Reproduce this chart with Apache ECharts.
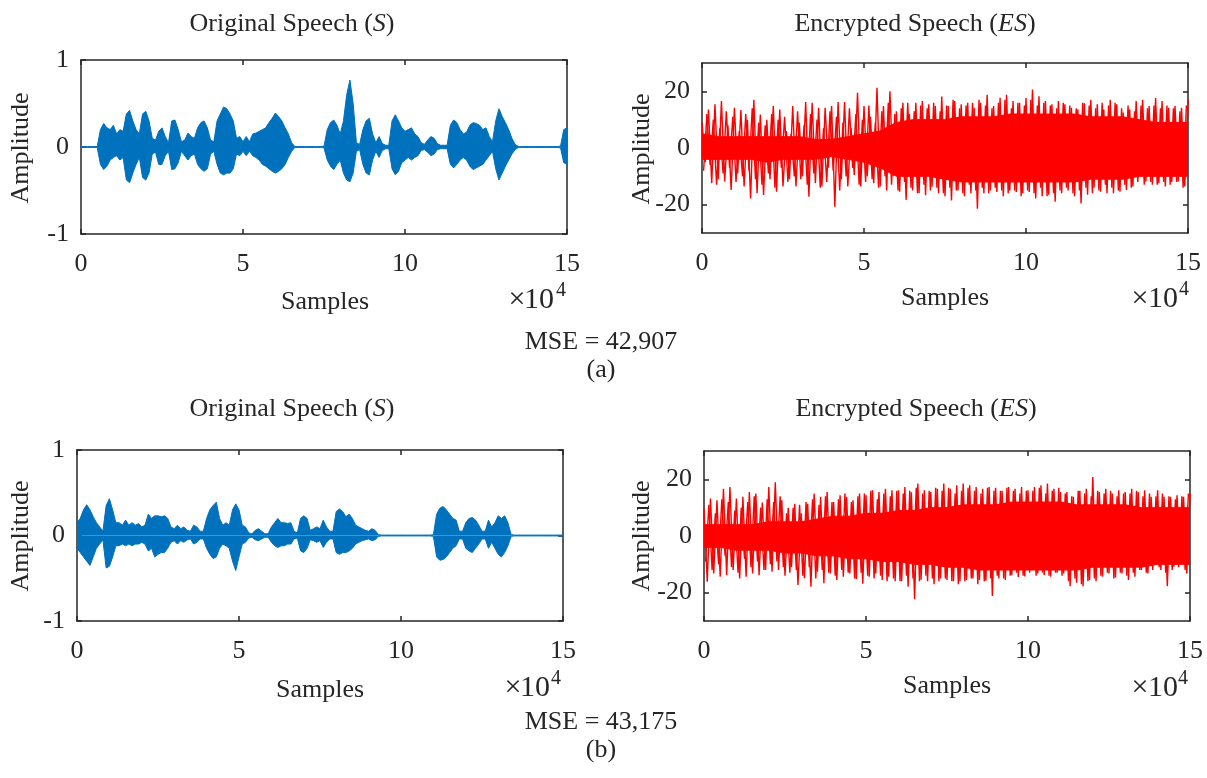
<!DOCTYPE html>
<html>
<head>
<meta charset="utf-8">
<script src="https://cdn.jsdelivr.net/npm/echarts@6/dist/echarts.min.js"></script>
<style>
html,body{margin:0;padding:0;background:#fff;}
#c{width:1207px;height:778px;}
</style>
</head>
<body>
<div id="c"></div>
<script>
// ---------- data (amplitudes) ----------
// x axis in units of 10^4 samples; speech envelopes sampled every 0.1 (x10^4)
const xTicks = [0, 5, 10, 15];
const speechTicks = [-1, 0, 1];
const encTicks = [-20, 0, 20];

// (a) original speech: upper and lower envelope
const speechA_upper = [
 0.005,0.005,0.005,0.005,0.005,0.005,0.2,0.27,0.22,0.2,
 0.25,0.15,0.2,0.18,0.38,0.42,0.3,0.2,0.15,0.38,
 0.41,0.3,0.1,0.08,0.18,0.22,0.12,0.05,0.3,0.31,
 0.2,0.06,0.08,0.16,0.12,0.1,0.22,0.28,0.3,0.22,
 0.08,0.06,0.3,0.38,0.46,0.44,0.38,0.3,0.1,0.12,
 0.06,0.12,0.06,0.15,0.16,0.18,0.2,0.22,0.28,0.33,
 0.39,0.35,0.3,0.22,0.15,0.05,0.005,0.005,0.005,0.005,
 0.005,0.005,0.005,0.005,0.005,0.01,0.2,0.28,0.31,0.25,
 0.15,0.3,0.6,0.77,0.5,0.05,0.03,0.2,0.3,0.33,
 0.15,0.05,0.12,0.04,0.02,0.02,0.3,0.37,0.3,0.22,
 0.18,0.2,0.22,0.15,0.12,0.05,0.03,0.08,0.12,0.1,
 0.04,0.02,0.02,0.02,0.25,0.31,0.28,0.2,0.15,0.17,
 0.25,0.28,0.27,0.25,0.2,0.22,0.12,0.06,0.3,0.44,
 0.35,0.28,0.2,0.1,0.03,0.005,0.005,0.005,0.005,0.005,
 0.005,0.005,0.005,0.005,0.005,0.005,0.005,0.005,0.01,0.2,
 0.22];
const speechA_lower = [
 -0.005,-0.005,-0.005,-0.005,-0.005,-0.005,-0.2,-0.26,-0.22,-0.15,
 -0.12,-0.1,-0.15,-0.12,-0.38,-0.41,-0.3,-0.2,-0.12,-0.35,
 -0.38,-0.3,-0.08,-0.06,-0.2,-0.2,-0.1,-0.05,-0.26,-0.25,
 -0.18,-0.05,-0.1,-0.15,-0.1,-0.08,-0.2,-0.25,-0.28,-0.25,
 -0.08,-0.05,-0.2,-0.3,-0.32,-0.3,-0.3,-0.25,-0.08,-0.1,
 -0.05,-0.1,-0.05,-0.1,-0.12,-0.15,-0.2,-0.22,-0.25,-0.28,
 -0.3,-0.28,-0.25,-0.2,-0.12,-0.05,-0.005,-0.005,-0.005,-0.005,
 -0.005,-0.005,-0.005,-0.005,-0.005,-0.01,-0.15,-0.22,-0.26,-0.2,
 -0.15,-0.3,-0.38,-0.4,-0.3,-0.05,-0.03,-0.2,-0.3,-0.32,
 -0.15,-0.05,-0.12,-0.04,-0.02,-0.02,-0.25,-0.32,-0.28,-0.18,
 -0.15,-0.12,-0.15,-0.12,-0.1,-0.04,-0.03,-0.06,-0.1,-0.08,
 -0.03,-0.02,-0.02,-0.02,-0.2,-0.24,-0.2,-0.15,-0.12,-0.15,
 -0.22,-0.26,-0.24,-0.22,-0.2,-0.15,-0.1,-0.05,-0.25,-0.38,
 -0.3,-0.22,-0.15,-0.08,-0.03,-0.005,-0.005,-0.005,-0.005,-0.005,
 -0.005,-0.005,-0.005,-0.005,-0.005,-0.005,-0.005,-0.005,-0.01,-0.18,
 -0.2];

// (b) original speech: upper and lower envelope
const speechB_upper = [
 0.15,0.2,0.3,0.36,0.3,0.22,0.15,0.1,0.05,0.35,
 0.43,0.3,0.15,0.15,0.12,0.18,0.12,0.15,0.12,0.14,
 0.1,0.12,0.25,0.2,0.23,0.23,0.22,0.23,0.2,0.1,
 0.08,0.12,0.08,0.1,0.06,0.05,0.12,0.1,0.05,0.05,
 0.2,0.3,0.35,0.39,0.2,0.12,0.15,0.12,0.3,0.37,
 0.3,0.12,0.1,0.03,0.02,0.06,0.08,0.05,0.02,0.02,
 0.1,0.15,0.2,0.15,0.15,0.14,0.15,0.05,0.03,0.2,
 0.23,0.2,0.06,0.08,0.1,0.08,0.18,0.1,0.05,0.05,
 0.28,0.31,0.28,0.22,0.25,0.2,0.12,0.1,0.08,0.06,
 0.05,0.08,0.06,0.01,0.005,0.005,0.005,0.005,0.005,0.005,
 0.005,0.005,0.005,0.005,0.005,0.005,0.005,0.005,0.005,0.005,
 0.01,0.25,0.32,0.34,0.3,0.25,0.2,0.18,0.05,0.05,
 0.15,0.2,0.21,0.18,0.12,0.05,0.05,0.18,0.1,0.15,
 0.23,0.2,0.23,0.15,0.01,0.005,0.005,0.005,0.005,0.005,
 0.005,0.005,0.005,0.005,0.005,0.005,0.005,0.005,0.005,0.005,
 0.005];
const speechB_lower = [
 -0.15,-0.2,-0.25,-0.3,-0.35,-0.25,-0.15,-0.1,-0.05,-0.38,
 -0.36,-0.25,-0.12,-0.12,-0.1,-0.12,-0.1,-0.12,-0.1,-0.1,
 -0.08,-0.1,-0.18,-0.15,-0.25,-0.22,-0.2,-0.2,-0.15,-0.08,
 -0.06,-0.1,-0.06,-0.08,-0.05,-0.04,-0.1,-0.08,-0.04,-0.04,
 -0.15,-0.22,-0.27,-0.25,-0.15,-0.1,-0.12,-0.15,-0.3,-0.41,
 -0.25,-0.1,-0.08,-0.03,-0.02,-0.05,-0.06,-0.04,-0.02,-0.02,
 -0.08,-0.12,-0.14,-0.12,-0.12,-0.1,-0.1,-0.04,-0.03,-0.18,
 -0.2,-0.15,-0.05,-0.06,-0.08,-0.06,-0.14,-0.08,-0.04,-0.04,
 -0.2,-0.22,-0.2,-0.2,-0.18,-0.15,-0.1,-0.08,-0.06,-0.05,
 -0.04,-0.06,-0.05,-0.01,-0.005,-0.005,-0.005,-0.005,-0.005,-0.005,
 -0.005,-0.005,-0.005,-0.005,-0.005,-0.005,-0.005,-0.005,-0.005,-0.005,
 -0.01,-0.25,-0.29,-0.28,-0.25,-0.2,-0.15,-0.12,-0.04,-0.04,
 -0.15,-0.18,-0.2,-0.15,-0.1,-0.04,-0.04,-0.15,-0.08,-0.15,
 -0.22,-0.25,-0.2,-0.12,-0.01,-0.005,-0.005,-0.005,-0.005,-0.005,
 -0.005,-0.005,-0.005,-0.005,-0.005,-0.005,-0.005,-0.005,-0.005,-0.005,
 -0.005];

// encrypted speech: alternating peak values every 0.1 (x10^4), starting at 0
const encA_peaks = [
 9,-5,13.6,-12.4,15.4,-11,16.6,-11.8,8,-14.8,
 14.2,-9,13.4,-13.6,10,-17.8,17,-16,11.8,-16.6,
 10,-11,14.8,-15.4,13.6,-13.6,6,-11,14.8,-13.6,
 9,-10,16.2,-17.2,16,-12.4,14.2,-13.6,14.2,-7,
 14.8,-20.7,16.2,-11,16.2,-13.6,7,-9.5,19.5,-13.6,
 14.8,-10,11,-12.4,21.3,-13.6,14.8,-15,20,-10,
 13,-15.4,16,-18.3,12,-15,16,-16,16.6,-16.7,
 15.4,-13.7,14.8,-16,18.2,-17,14.8,-18.5,16.6,-15,
 15.4,-17,16,-16,14.2,-21.4,16,-16,18.8,-15,
 14.8,-15.5,17.7,-17,18.8,-15,16.6,-15.5,16,-16,
 17.6,-15.5,20.6,-17.8,18.3,-17,16.6,-16.5,15.4,-19,
 16.6,-16,15.4,-15,14.2,-17,13.6,-19.6,15.8,-16.5,
 17,-14,15.4,-15.4,13.6,-16,17,-16,15.4,-15.4,
 12.5,-14.8,13.6,-13.6,16.6,-10,17,-11.8,14.8,-13,
 17.6,-12.4,16.6,-13.6,14.2,-12,14.8,-11.8,14.2,-13.6,
 17];
// secondary peaks, every 0.1 (x10^4), starting at 0.05
const encA_peaks2 = [
 -8,12,-6,10,-13,7,-9,13,-7,11,
 -12,6,-10,12,-8,14,-11,9,-13,8,
 -9,12,-14,10,-7,11,-12,5,-10,13,
 -11,8,-13,12,-9,10,-14,7,-12,13,
 -8,11,-15,9,-10,14,-7,12,-13,10,
 -12,15,-11,9,-14,13,-10,16,-13,12,
 -15,14,-12,16,-14,13,-16,15,-13,14,
 -15,16,-14,13,-16,15,-14,17,-15,14,
 -16,15,-13,16,-15,17,-14,15,-16,14,
 -14,16,-15,17,-16,14,-15,16,-17,15,
 -15,17,-16,15,-14,16,-17,15,-16,14,
 -15,16,-14,15,-16,14,-15,16,-14,15,
 -16,14,-15,16,-13,15,-14,16,-15,14,
 -13,15,-14,13,-12,15,-13,14,-12,15,
 -13,14,-12,15,-13,14,-12,13,-14,15];
const encB_peaks = [
 9.7,-16.1,13.2,-13.2,12.6,-14.4,16.7,-13.8,17.3,-12,
 13.2,-15,13.8,-14.4,15.5,-13.2,15,-13.8,11.8,-12,
 17.3,-12.6,19,-12,12.6,-14,10,-10.9,11.4,-17.3,
 8,-14.9,11.4,-17.9,15,-12.6,13.8,-16.7,15.5,-13.2,
 12,-15.5,14.4,-14.4,13.8,-13.2,12.6,-15.2,15,-16.8,
 14.4,-14.4,16.1,-13.2,15.5,-15.5,16.7,-14.4,16.1,-16,
 16.1,-16,17.3,-17.9,15.4,-22.3,18.5,-15.4,16.1,-16,
 15.5,-17,16.7,-15,18.5,-15.5,16.7,-16,17.9,-16,
 18.5,-15.5,17.9,-15,17.3,-15.5,16.7,-15.8,17.3,-21.2,
 17,-15,16,-15.5,17.3,-13.8,16.7,-14.5,17.3,-14.3,
 16.1,-12,17.3,-13.2,17.9,-13.8,18.5,-14.4,16.7,-13,
 15.5,-13.2,15.5,-17.7,13.8,-16.5,16,-17.7,16.7,-15.5,
 20.8,-16,15.5,-14.4,16.7,-13.2,15,-14.6,16.1,-13.2,
 15.5,-15.5,16.7,-14.4,15.5,-12,16.1,-13.2,13.8,-9.5,
 16.1,-12,13.8,-17.7,13.8,-10.8,14.4,-9.5,13.8,-13.2,
 15];
const encB_peaks2 = [
 -9,11,-12,8,-10,13,-7,12,-11,9,
 -13,10,-8,12,-11,14,-9,10,-12,13,
 -10,12,-9,14,-11,8,-13,10,-12,11,
 -14,12,-11,13,-15,11,-12,14,-13,12,
 -14,13,-12,15,-13,12,-15,14,-13,15,
 -14,16,-15,13,-14,15,-16,14,-15,16,
 -16,15,-14,16,-15,17,-16,15,-14,16,
 -15,17,-16,16,-15,17,-16,15,-17,16,
 -16,17,-15,16,-17,15,-16,17,-15,16,
 -14,16,-15,17,-14,16,-13,15,-14,16,
 -13,16,-14,17,-13,15,-14,16,-13,17,
 -14,15,-16,14,-15,16,-17,15,-16,14,
 -15,16,-14,15,-13,16,-15,14,-13,15,
 -14,15,-13,16,-12,14,-13,15,-12,14,
 -11,15,-13,14,-12,13,-11,14,-12,15];
// encrypted speech: dense core band, every 0.5 (x10^4)
const encA_coreUpper = [5,4,4,4,4,4,4,3,3,4,5,6,9,10,10,10,11,11,11,12,12,12,12,12,11,11,11,10,9,9,9];
const encA_coreLower = [-4,-4,-4,-4,-5,-4,-4,-4,-3,-4,-5,-7,-10,-10,-10,-11,-12,-12,-12,-12,-12,-12,-12,-12,-11,-11,-11,-10,-10,-10,-10];
const encB_coreUpper = [4,4,4,4,5,5,5,6,7,7,8,8,9,9,10,10,11,11,11,12,12,12,12,11,11,11,11,10,10,10,10];
const encB_coreLower = [-4,-4,-5,-5,-5,-6,-6,-7,-7,-8,-8,-9,-9,-10,-10,-11,-11,-12,-12,-12,-12,-12,-12,-12,-11,-11,-11,-11,-10,-10,-10];

const mseA = '42,907';
const mseB = '43,175';

// ---------- chart ----------
const FONT = 'Liberation Serif';
const TXT = '#262626';
const BLUE = '#0072BD';
const RED = '#FF0000';
const FS = 26;

function pairs(arr, step, offset) { return arr.map((v, i) => [(offset || 0) + i * step, v]); }

const grids = [
  {left: 81, top: 60, width: 486, height: 174},
  {left: 702, top: 63, width: 486, height: 170},
  {left: 77, top: 450, width: 486, height: 171},
  {left: 704, top: 451, width: 486, height: 170}
];
const isSpeech = [true, false, true, false];

const axisLineStyle = {color: TXT, width: 1.5};
const xAxes = [], yAxes = [];
grids.forEach((g, gi) => {
  ['bottom', 'top'].forEach(pos => {
    xAxes.push({
      gridIndex: gi, type: 'value', min: 0, max: 15, interval: 5, position: pos,
      axisLine: {show: true, onZero: false, lineStyle: axisLineStyle},
      axisTick: {show: true, inside: true, length: 5, lineStyle: axisLineStyle},
      axisLabel: {show: pos === 'bottom', margin: 17, fontFamily: FONT, fontSize: FS, color: TXT,
                  customValues: xTicks},
      splitLine: {show: false}
    });
  });
  ['left', 'right'].forEach(pos => {
    const sp = isSpeech[gi];
    yAxes.push({
      gridIndex: gi, type: 'value', position: pos,
      min: sp ? -1 : -30, max: sp ? 1 : 30, interval: sp ? 1 : 10,
      axisLine: {show: true, onZero: false, lineStyle: axisLineStyle},
      axisTick: {show: true, inside: true, length: 5, lineStyle: axisLineStyle,
                 customValues: sp ? speechTicks : encTicks},
      axisLabel: {show: pos === 'left', margin: 12, fontFamily: FONT, fontSize: FS, color: TXT,
                  customValues: sp ? speechTicks : encTicks},
      splitLine: {show: false}
    });
  });
});

function areaSeries(gi, data, color) {
  return {
    type: 'line', xAxisIndex: gi * 2, yAxisIndex: gi * 2, data: data,
    showSymbol: false, symbol: 'none', animation: false, z: 2,
    lineStyle: {color: color, width: 1}, itemStyle: {color: color},
    areaStyle: {color: color, opacity: 1, origin: 0}
  };
}
function lineSeries(gi, data, color) {
  return {
    type: 'line', xAxisIndex: gi * 2, yAxisIndex: gi * 2, data: data,
    showSymbol: false, symbol: 'none', animation: false, z: 3,
    lineStyle: {color: color, width: 1.4}, itemStyle: {color: color}
  };
}

const series = [
  areaSeries(0, pairs(speechA_upper, 0.1), BLUE),
  areaSeries(0, pairs(speechA_lower, 0.1), BLUE),
  areaSeries(1, pairs(encA_coreUpper, 0.5), RED),
  areaSeries(1, pairs(encA_coreLower, 0.5), RED),
  lineSeries(1, pairs(encA_peaks, 0.1), RED),
  lineSeries(1, pairs(encA_peaks2, 0.1, 0.05), RED),
  areaSeries(2, pairs(speechB_upper, 0.1), BLUE),
  areaSeries(2, pairs(speechB_lower, 0.1), BLUE),
  areaSeries(3, pairs(encB_coreUpper, 0.5), RED),
  areaSeries(3, pairs(encB_coreLower, 0.5), RED),
  lineSeries(3, pairs(encB_peaks, 0.1), RED),
  lineSeries(3, pairs(encB_peaks2, 0.1, 0.05), RED)
];

function text(x, y, str, extra) {
  return Object.assign({
    type: 'text', x: x, y: y, silent: true,
    style: Object.assign({text: str, fontFamily: FONT, fontSize: FS, fill: TXT,
                          align: 'center', verticalAlign: 'middle'}, (extra && extra.style) || {})
  }, extra && extra.rotation ? {rotation: extra.rotation} : {});
}
function richTitle(x, y, pre, ital, post) {
  return {
    type: 'text', x: x, y: y, silent: true,
    style: {
      text: '{n|' + pre + '}{i|' + ital + '}{n|' + post + '}',
      fontFamily: FONT, fontSize: FS, fill: TXT, align: 'center', verticalAlign: 'middle',
      rich: {
        n: {fontFamily: FONT, fontSize: FS, fill: TXT},
        i: {fontFamily: FONT, fontSize: FS, fill: TXT, fontStyle: 'italic'}
      }
    }
  };
}
// "x10^4" axis exponent label
function times10(xc, tenLeft, fourLeft, y) {
  return [
    text(xc, y, '\u00d7', {style: {fontSize: 30}}),
    text(tenLeft, y, '10', {style: {align: 'left', fontSize: 30}}),
    text(fourLeft, y - 9, '4', {style: {align: 'left', fontSize: 20}})
  ];
}

const graphics = [
  richTitle(292, 24, 'Original Speech (', 'S', ')'),
  richTitle(915, 24, 'Encrypted Speech (', 'ES', ')'),
  richTitle(292, 409, 'Original Speech (', 'S', ')'),
  richTitle(916, 409, 'Encrypted Speech (', 'ES', ')'),
  text(325, 302, 'Samples'),
  text(945, 298, 'Samples'),
  text(320, 690, 'Samples'),
  text(947, 686, 'Samples'),
  text(21, 148, 'Amplitude', {rotation: Math.PI / 2}),
  text(642, 149, 'Amplitude', {rotation: Math.PI / 2}),
  text(21, 536, 'Amplitude', {rotation: Math.PI / 2}),
  text(642, 536, 'Amplitude', {rotation: Math.PI / 2}),
  ...times10(517, 524, 556, 300),
  ...times10(1140, 1148, 1179, 299),
  ...times10(513, 520, 551, 688),
  ...times10(1140, 1148, 1178, 688),
  text(601, 342, 'MSE = ' + mseA),
  text(601, 370, '(a)'),
  text(601, 722, 'MSE = ' + mseB),
  text(601, 750, '(b)')
];

const chart = echarts.init(document.getElementById('c'), null, {renderer: 'canvas'});
chart.setOption({
  animation: false,
  backgroundColor: '#fff',
  grid: grids.map(g => Object.assign({containLabel: false}, g)),
  xAxis: xAxes,
  yAxis: yAxes,
  series: series,
  graphic: graphics
});
</script>
</body>
</html>
